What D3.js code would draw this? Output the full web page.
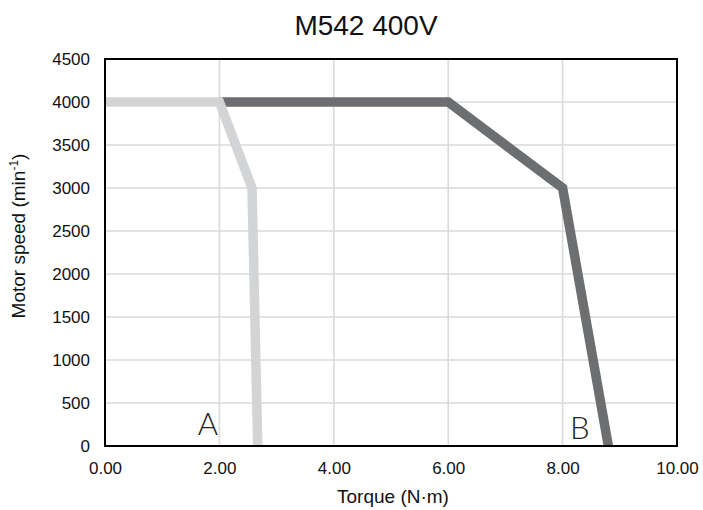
<!DOCTYPE html>
<html><head><meta charset="utf-8">
<script src="https://cdn.jsdelivr.net/npm/d3@7"></script>
<style>
body{margin:0;background:#fff;}
text{font-family:"Liberation Sans",Arial,Helvetica,sans-serif;fill:#111;}
</style></head>
<body>
<svg id="chart" width="703" height="510"></svg>
<script>
const title = "M542 400V";
const xLabel = "Torque (N·m)";
const xTicks = [0, 2, 4, 6, 8, 10];
const yTicks = [0, 500, 1000, 1500, 2000, 2500, 3000, 3500, 4000, 4500];
const seriesBTorque = [2, 6, 8, 8.8];
const seriesBSpeed = [4000, 4000, 3000, 0];
const seriesATorque = [0, 2, 2.57, 2.67];
const seriesASpeed = [4000, 4000, 3000, 0];
const seriesNames = ["A", "B"];
const labelPosTorque = [1.8, 8.3];

const svg = d3.select("#chart");
const m = {l:105, r:677, t:59, b:446};
const x = d3.scaleLinear().domain([0,10]).range([m.l, m.r]);
const y = d3.scaleLinear().domain([0,4500]).range([m.b, m.t]);

// gridlines
const g = svg.append("g");
g.selectAll("line.v").data(xTicks.slice(1,-1)).join("line")
  .attr("x1", d=>x(d)).attr("x2", d=>x(d)).attr("y1", m.t).attr("y2", m.b)
  .attr("stroke","#dadada").attr("stroke-width",1.6);
g.selectAll("line.h").data(yTicks.slice(1,-1)).join("line")
  .attr("y1", d=>y(d)).attr("y2", d=>y(d)).attr("x1", m.l).attr("x2", m.r)
  .attr("stroke","#dadada").attr("stroke-width",1.6);

svg.append("clipPath").attr("id","clip").append("rect")
  .attr("x", m.l).attr("y", m.t).attr("width", m.r-m.l).attr("height", m.b-m.t);

const line = d3.line().x(d=>x(d[0])).y(d=>y(d[1]));
const dataB = seriesBTorque.map((t,i)=>[t, seriesBSpeed[i]]);
const dataA = seriesATorque.map((t,i)=>[t, seriesASpeed[i]]);
svg.append("path").attr("d", line(dataB)).attr("fill","none")
  .attr("stroke","#6d6e70").attr("stroke-width",9.5).attr("stroke-linejoin","miter")
  .attr("clip-path","url(#clip)");
svg.append("path").attr("d", line(dataA)).attr("fill","none")
  .attr("stroke","#d3d4d5").attr("stroke-width",9.5).attr("stroke-linejoin","miter")
  .attr("clip-path","url(#clip)");

// frame
svg.append("rect").attr("x", m.l).attr("y", m.t).attr("width", m.r-m.l).attr("height", m.b-m.t)
  .attr("fill","none").attr("stroke","#000").attr("stroke-width",2);

// axes labels
const xAxis = d3.axisBottom(x).tickValues(xTicks).tickFormat(d3.format(".2f")).tickSize(0).tickPadding(16);
svg.append("g").attr("transform",`translate(0,${m.b})`).call(xAxis)
  .call(a=>a.select(".domain").remove())
  .selectAll("text").style("font-size","17px").attr("fill","#111");
const yAxis = d3.axisLeft(y).tickValues(yTicks).tickFormat(d3.format("d")).tickSize(0).tickPadding(15);
svg.append("g").attr("transform",`translate(${m.l},0)`).call(yAxis)
  .call(a=>a.select(".domain").remove())
  .selectAll("text").style("font-size","17px").attr("fill","#111");

svg.append("text").attr("x",366).attr("y",35).attr("text-anchor","middle")
  .style("font-size","28px").text(title);
svg.append("text").attr("x",393).attr("y",503).attr("text-anchor","middle")
  .style("font-size","19px").text(xLabel);
const yl = svg.append("text").attr("transform","translate(25,236) rotate(-90)")
  .attr("text-anchor","middle").style("font-size","19px");
yl.append("tspan").text("Motor speed (min");
yl.append("tspan").attr("dy",-7).style("font-size","12px").text("-1");
yl.append("tspan").attr("dy",7).text(")");

svg.selectAll("text.lbl").data(seriesNames).join("text").attr("class","lbl")
  .attr("x",(d,i)=>x(labelPosTorque[i])).attr("y",(d,i)=> i===0?435:439)
  .attr("text-anchor","middle")
  .style("font-family","Lato, 'Liberation Sans', sans-serif").style("font-weight","300")
  .style("font-size","31px").style("fill","#222").text(d=>d);
</script>
</body></html>
